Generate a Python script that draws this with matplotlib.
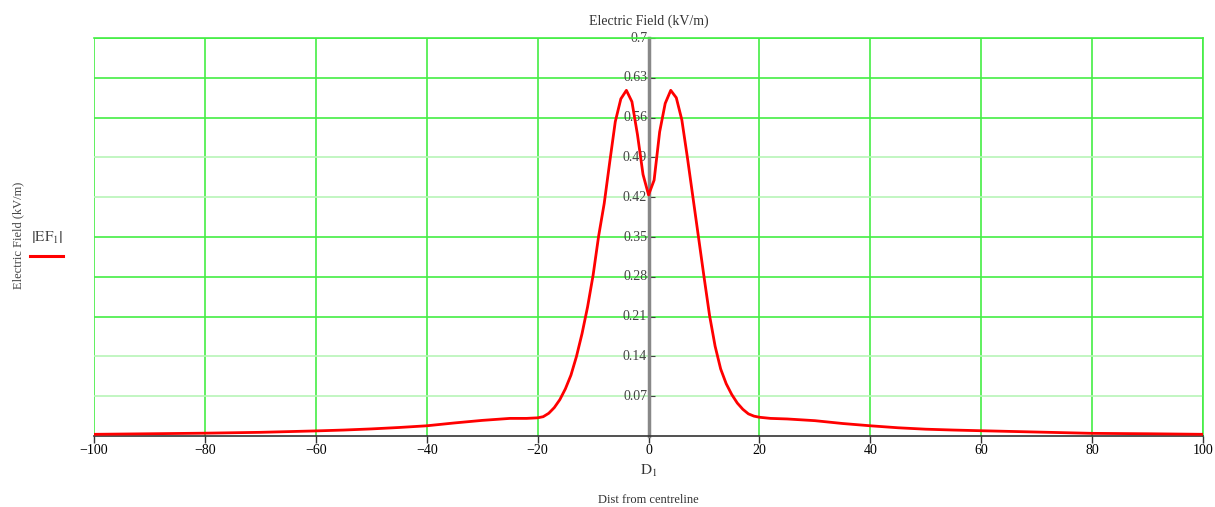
import numpy as np
import matplotlib
matplotlib.use("Agg")
import matplotlib.pyplot as plt
from matplotlib.lines import Line2D

plt.rcParams["font.family"] = ["Liberation Serif", "DejaVu Serif"]
plt.rcParams["mathtext.fontset"] = "stix"

# distancia desde el eje (m) y campo electrico (kV/m)
dist = [-100, -90, -80, -70, -60, -55, -50, -45, -40, -35, -30, -25, -22,
        -20, -19, -18, -17, -16, -15, -14, -13, -12, -11, -10, -9, -8, -7,
        -6, -5, -4, -3, -2, -1, 0,
        1, 2, 3, 4, 5, 6, 7, 8, 9, 10, 11, 12, 13, 14, 15, 16, 17, 18, 19,
        20, 22, 25, 30, 35, 40, 45, 50, 55, 60, 70, 80, 90, 100]
campo = [0.003, 0.004, 0.005, 0.0065, 0.009, 0.0105, 0.0125, 0.015, 0.018,
         0.023, 0.0275, 0.031, 0.031,
         0.032, 0.034, 0.040, 0.050, 0.064, 0.083, 0.107, 0.140, 0.180,
         0.227, 0.283, 0.352, 0.409, 0.482,
         0.553, 0.593, 0.608, 0.588, 0.530, 0.460, 0.424,
         0.450, 0.535, 0.585, 0.608, 0.595, 0.556, 0.490, 0.420, 0.350,
         0.280, 0.212, 0.158, 0.118, 0.092, 0.073, 0.058, 0.047, 0.039, 0.035,
         0.033, 0.031, 0.030, 0.027, 0.022, 0.018, 0.0145, 0.012, 0.0105,
         0.0093, 0.007, 0.0047, 0.004, 0.003]

xticks = [-100, -80, -60, -40, -20, 0, 20, 40, 60, 80, 100]
yticks = [0.07, 0.14, 0.21, 0.28, 0.35, 0.42, 0.49, 0.56, 0.63, 0.7]
ytick_labels = ["0.07", "0.14", "0.21", "0.28", "0.35", "0.42", "0.49", "0.56", "0.63", "0.7"]
# algunas lineas de la grilla se ven mas claras en la original
claras = [0.07, 0.14, 0.42, 0.49]

fig = plt.figure(figsize=(12.15, 5.07), dpi=100)
ax = fig.add_axes([0.0774, 0.140, 0.9128, 0.785])

verde = "#44ee44"
verde_claro = "#b8f5b8"
for xv in xticks:
    ax.axvline(xv, color=verde, lw=1.2, zorder=1)
for yv in yticks:
    ax.axhline(yv, color=verde_claro if yv in claras else verde, lw=1.2, zorder=1)

ax.plot(dist, campo, color="#ff0000", lw=2, zorder=3)

ax.set_xlim(-100, 100)
ax.set_ylim(0, 0.7)
ax.set_xticks(xticks)
ax.set_xticklabels([f"{v}".replace("-", "\u2212") for v in xticks], fontsize=10)
ax.set_yticks(yticks)
ax.set_yticklabels(ytick_labels, fontsize=9, color="#444444")

ax.spines["left"].set_position(("data", 0))
ax.spines["left"].set_color("#888888")
ax.spines["left"].set_linewidth(2.5)
ax.spines["left"].set_zorder(2)
ax.spines["bottom"].set_color("#333333")
ax.spines["bottom"].set_linewidth(1.2)
for s in ["top", "right"]:
    ax.spines[s].set_color(verde)
    ax.spines[s].set_linewidth(1.2)

ax.tick_params(axis="y", direction="in", length=4, pad=1, colors="#444444")
ax.tick_params(axis="x", direction="out", length=5, width=1, color="#333333", pad=1)
for lbl in ax.get_yticklabels():
    lbl.set_verticalalignment("center")

fig.text(0.534, 0.958, "Electric Field (kV/m)", ha="center", va="center", fontsize=10, color="#333333")
fig.text(0.015, 0.536, "Electric Field (kV/m)", ha="center", va="center", rotation=90,
         fontsize=9, color="#444444")
fig.text(0.534, 0.072, r"$\mathrm{D}_1$", ha="center", va="center", fontsize=11, color="#333333")
fig.text(0.534, 0.013, "Dist from centreline", ha="center", va="center", fontsize=9, color="#333333")

# leyenda a la izquierda
fig.text(0.0387, 0.530, r"$\left|\mathrm{EF}_{1}\right|$", ha="center", va="center",
         fontsize=11, color="#444444")
fig.add_artist(Line2D([0.025, 0.052], [0.495, 0.495], color="#ff0000", lw=2.2,
                      transform=fig.transFigure))

fig.savefig("out.png", dpi=100)
